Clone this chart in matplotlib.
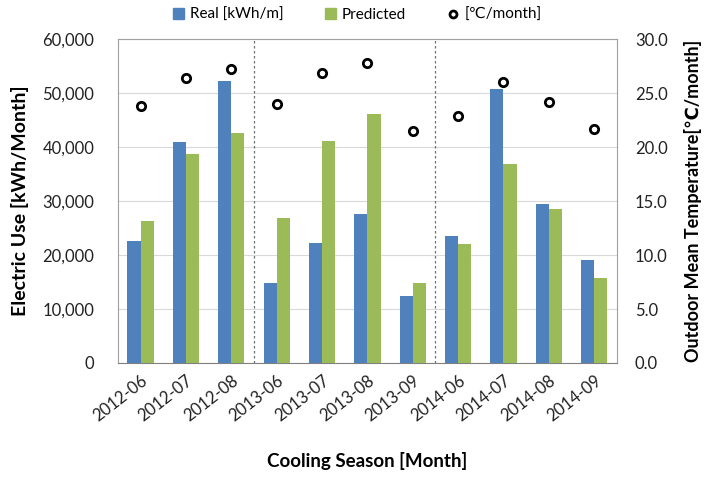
import matplotlib
matplotlib.use("Agg")
import matplotlib.pyplot as plt
import numpy as np
from matplotlib.ticker import FuncFormatter, MultipleLocator
from matplotlib.lines import Line2D
from matplotlib.patches import Patch

plt.rcParams['font.family'] = ['Lato', 'DejaVu Sans']

months = ["2012-06", "2012-07", "2012-08", "2013-06", "2013-07", "2013-08",
          "2013-09", "2014-06", "2014-07", "2014-08", "2014-09"]
real = [22600, 41000, 52300, 14800, 22200, 27700, 12500, 23600, 50700, 29500, 19100]
predicted = [26400, 38700, 42600, 26900, 41200, 46100, 14800, 22000, 36800, 28500, 15800]
temperature = [23.8, 26.4, 27.2, 24.0, 26.9, 27.8, 21.5, 22.9, 26.0, 24.2, 21.7]
season_breaks = [2.5, 6.5]

blue = "#4F81BD"
green = "#9BBB59"

fig = plt.figure(figsize=(7.19, 4.78), dpi=100)
ax = fig.add_axes([0.164, 0.2406, 0.694, 0.6774])
x = np.arange(len(months))
w = 0.29
ax.bar(x - w / 2, real, w, color=blue, zorder=3)
ax.bar(x + w / 2, predicted, w, color=green, zorder=3)
ax.set_xlim(-0.5, len(months) - 0.5)
ax.set_ylim(0, 60000)
ax.yaxis.set_major_locator(MultipleLocator(10000))
ax.yaxis.set_major_formatter(FuncFormatter(lambda v, p: f"{int(v):,}"))
ax.grid(axis='y', color='#D9D9D9', linewidth=0.8, zorder=0)
for b in season_breaks:
    ax.axvline(b, color='#707070', linestyle=(0, (2, 2)), linewidth=0.9, zorder=2)
ax.set_xticks(x)
ax.set_xticklabels(months, rotation=38, ha='right', rotation_mode='anchor', fontsize=12)
ax.tick_params(axis='both', length=0, labelsize=12, colors='#222222')
ax.tick_params(axis='x', pad=7)
ax.tick_params(axis='y', pad=17)
for s in ['top', 'left', 'right']:
    ax.spines[s].set_color('#A0A0A0')
ax.spines['bottom'].set_color('#808080')
ax.set_ylabel("Electric Use [kWh/Month]", fontsize=14, fontweight='bold', labelpad=10)
ax.set_xlabel("Cooling Season [Month]", fontsize=13.5, fontweight='bold', labelpad=20)

ax2 = ax.twinx()
ax2.plot(x, temperature, linestyle='none', marker='o', markersize=6,
         markerfacecolor='white', markeredgecolor='black', markeredgewidth=2, zorder=4)
ax2.set_ylim(0, 30)
ax2.yaxis.set_major_locator(MultipleLocator(5))
ax2.yaxis.set_major_formatter(FuncFormatter(lambda v, p: f"{v:.1f}"))
ax2.tick_params(axis='y', length=0, labelsize=12, colors='#222222', pad=13)
for s in ax2.spines.values():
    s.set_visible(False)
ax2.set_ylabel("Outdoor Mean Temperature[℃/month]", fontsize=13, fontweight='bold', labelpad=12)

handles = [Patch(color=blue), Patch(color=green),
           Line2D([], [], linestyle='none', marker='o', markersize=5,
                  markerfacecolor='white', markeredgecolor='black', markeredgewidth=2)]
labels = ["Real [kWh/m]", "Predicted", "[℃/month]"]
fig.legend(handles, labels, loc='upper center', bbox_to_anchor=(0.497, 1.012), ncol=3,
           frameon=False, fontsize=11, handlelength=0.7, handleheight=0.7,
           handletextpad=0.4, columnspacing=2.7)

fig.savefig("out.png", dpi=100)
